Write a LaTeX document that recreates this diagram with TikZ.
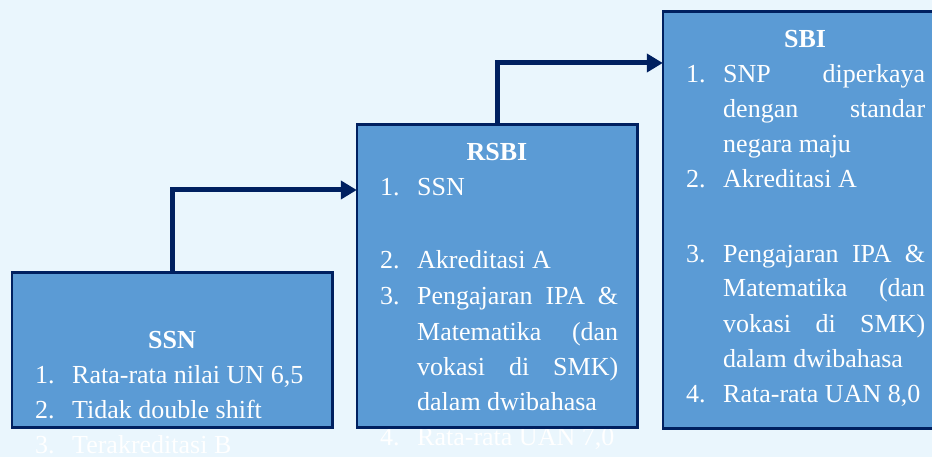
\documentclass[tikz,border=0pt]{standalone}
\usepackage{fontspec}
\setmainfont{Liberation Serif}
\usetikzlibrary{arrows.meta}

\definecolor{pagebg}{HTML}{EAF6FD}
\definecolor{boxfill}{HTML}{5B9BD5}
\definecolor{navy}{HTML}{002060}

% number column and justified text column of the lists
\newcommand{\numcol}[1]{\makebox[37pt][l]{#1}}
\newcommand{\justline}[1]{\makebox[201pt][s]{#1}}

\tikzset{
  panel/.style={rectangle, fill=boxfill, inner sep=0pt},
  frame/.style={draw=navy, line width=2.6pt},
  txt/.style={anchor=base west, inner sep=0pt, text=white,
              font=\fontsize{26}{35}\selectfont},
  title/.style={anchor=base, inner sep=0pt, text=white,
                font=\fontsize{26}{35}\selectfont\bfseries},
  arr/.style={draw=navy, line width=5pt,
              -{Triangle[length=16pt,width=18pt]}}
}

\begin{document}
\begin{tikzpicture}[x=1pt,y=-1pt]
\useasboundingbox (0,0) rectangle (932,457);
\clip (0,0) rectangle (932,457);
\fill[pagebg] (0,0) rectangle (932,457);

% the three panels
\node[panel, minimum width=320pt, minimum height=154pt] (ssn)  at (172,350) {};
\node[panel, minimum width=280pt, minimum height=302pt] (rsbi) at (497,276) {};
\node[panel, minimum width=284pt, minimum height=416pt] (sbi)  at (805,220) {};

% SSN
\node[title] (ssn-t) at (172,348) {SSN};
\node[txt] (ssn-1) at (35,383) {\numcol{1.}Rata-rata nilai UN 6,5};
\node[txt] (ssn-2) at (35,418) {\numcol{2.}Tidak double shift};
\node[txt] (ssn-3) at (35,453) {\numcol{3.}Terakreditasi B};

% RSBI
\node[title] (rsbi-t) at (497,161) {RSBI};
\node[txt] (rsbi-1)  at (380,196) {\numcol{1.}SSN};
\node[txt] (rsbi-2)  at (380,269) {\numcol{2.}Akreditasi A};
\node[txt] (rsbi-3)  at (380,305) {\numcol{3.}\justline{Pengajaran IPA \&}};
\node[txt] (rsbi-3b) at (417,340) {\justline{Matematika (dan}};
\node[txt] (rsbi-3c) at (417,375) {\justline{vokasi di SMK)}};
\node[txt] (rsbi-3d) at (417,410) {dalam dwibahasa};
\node[txt] (rsbi-4)  at (380,445) {\numcol{4.}Rata-rata UAN 7,0};

% SBI
\node[title] (sbi-t) at (805,48) {SBI};
\node[txt] (sbi-1)  at (686,83)  {\numcol{1.}\makebox[202pt][s]{SNP diperkaya}};
\node[txt] (sbi-1b) at (723,118) {\makebox[202pt][s]{dengan standar}};
\node[txt] (sbi-1c) at (723,153) {negara maju};
\node[txt] (sbi-2)  at (686,188) {\numcol{2.}Akreditasi A};
\node[txt] (sbi-3)  at (686,262) {\numcol{3.}\makebox[202pt][s]{Pengajaran IPA \&}};
\node[txt] (sbi-3b) at (723,297) {\makebox[202pt][s]{Matematika (dan}};
\node[txt] (sbi-3c) at (723,332) {\makebox[202pt][s]{vokasi di SMK)}};
\node[txt] (sbi-3d) at (723,367) {dalam dwibahasa};
\node[txt] (sbi-4)  at (686,402) {\numcol{4.}Rata-rata UAN 8,0};

% panel outlines
\draw[frame] (ssn.north west)  rectangle (ssn.south east);
\draw[frame] (rsbi.north west) rectangle (rsbi.south east);
\draw[frame] (sbi.north west)  rectangle (sbi.south east);

% step connectors
\coordinate (k1) at (172,190);
\coordinate (k2) at (497,63);
\draw[arr] (ssn.north)  |- (rsbi.west |- k1);
\draw[arr] (rsbi.north) |- (sbi.west |- k2);
\end{tikzpicture}
\end{document}
